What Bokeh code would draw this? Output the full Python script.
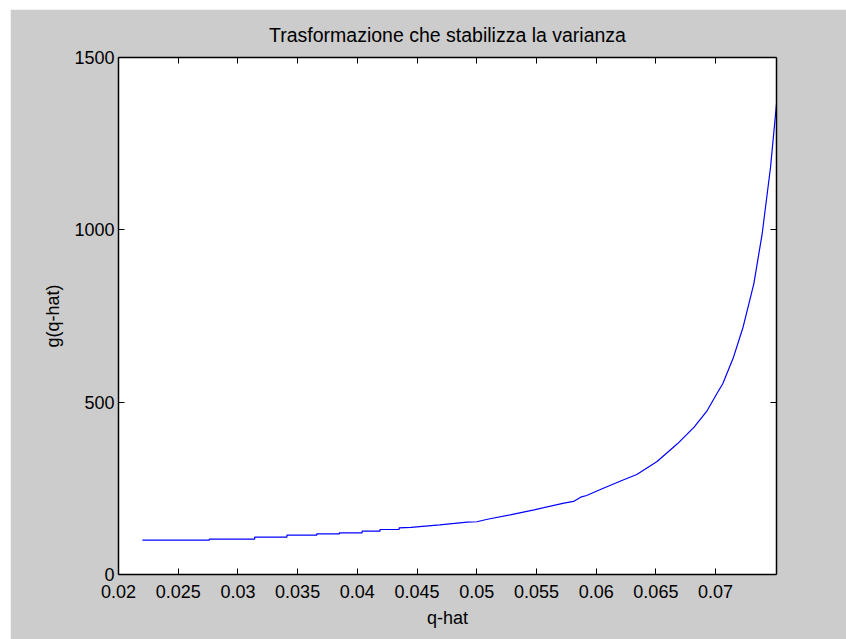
from bokeh.plotting import figure
from bokeh.models import LinearAxis, FixedTicker, CustomJSTickFormatter, Range1d, Spacer
from bokeh.layouts import column, row
from bokeh.embed import file_html
from bokeh.resources import INLINE

# estimated proportion q-hat and the transformed value g(q-hat)
q_hat = [0.0220, 0.0276, 0.0276, 0.0314, 0.0314, 0.0341, 0.0341, 0.0366, 0.0366,
         0.0385, 0.0385, 0.0404, 0.0404, 0.0419, 0.0419, 0.0435, 0.0435, 0.0445,
         0.0469, 0.0492, 0.0500, 0.0509, 0.0528, 0.0548, 0.0573, 0.0581, 0.0587,
         0.0592, 0.0604, 0.0620, 0.0634, 0.0651, 0.0668, 0.0682, 0.0693, 0.0701,
         0.0706, 0.0715, 0.0723, 0.0732, 0.0739, 0.0746, 0.0751]
g_val = [99.5, 99.5, 102.4, 102.4, 108.2, 108.2, 114.0, 114.0, 118.1,
         118.1, 121.0, 121.0, 125.6, 125.6, 130.6, 130.6, 135.5, 137.0,
         144.2, 151.7, 153.0, 160.4, 173.2, 187.7, 206.9, 212.0, 224.3,
         229.2, 247.5, 270.7, 290.1, 327.8, 379.2, 427.4, 475.8, 524.3,
         553.3, 630.5, 717.5, 843.4, 988.5, 1181.7, 1365.0]

x_ticks = [0.02, 0.025, 0.03, 0.035, 0.04, 0.045, 0.05, 0.055, 0.06, 0.065, 0.07]
y_ticks = [0, 500, 1000, 1500]

FONT = "Liberation Sans"
GRAY = "#cccccc"

p = figure(frame_width=658, frame_height=517,
           x_range=Range1d(0.02, 0.0751), y_range=Range1d(0, 1500),
           output_backend="svg", toolbar_location=None,
           x_axis_location=None, y_axis_location=None,
           min_border_left=108, min_border_right=70,
           min_border_top=48, min_border_bottom=65,
           background_fill_color="white", border_fill_color=GRAY,
           outline_line_color=None)

p.title.text = "Trasformazione che stabilizza la varianza"
p.title.align = "center"
p.title.text_font = FONT
p.title.text_font_size = "19.5px"
p.title.text_font_style = "normal"
p.title.text_color = "black"
p.title.standoff = 24

p.xgrid.visible = False
p.ygrid.visible = False

fmt = CustomJSTickFormatter(code="return String(Number(tick.toFixed(4)));")

bottom_ax = LinearAxis(ticker=FixedTicker(ticks=x_ticks), formatter=fmt)
left_ax = LinearAxis(ticker=FixedTicker(ticks=y_ticks), formatter=fmt)
top_ax = LinearAxis(ticker=FixedTicker(ticks=x_ticks), formatter=fmt)
right_ax = LinearAxis(ticker=FixedTicker(ticks=y_ticks), formatter=fmt)
p.add_layout(bottom_ax, "below")
p.add_layout(left_ax, "left")
p.add_layout(top_ax, "above")
p.add_layout(right_ax, "right")

for ax in (bottom_ax, left_ax, top_ax, right_ax):
    ax.axis_line_color = "black"
    ax.axis_line_width = 1.5
    ax.major_tick_in = 6
    ax.major_tick_out = 0
    ax.major_tick_line_color = "black"
    ax.minor_tick_line_color = None
    ax.major_label_text_font = FONT
    ax.major_label_text_font_size = "18px"
    ax.major_label_text_color = "black"
    ax.axis_label_text_font = FONT
    ax.axis_label_text_font_size = "18px"
    ax.axis_label_text_font_style = "normal"
    ax.axis_label_text_color = "black"

# top and right axes only carry the box edge and inward ticks
for ax in (top_ax, right_ax):
    ax.major_label_text_font_size = "1px"
    ax.major_label_text_color = None
    ax.major_label_standoff = 0

bottom_ax.axis_label = "q-hat"
bottom_ax.major_label_standoff = 10
bottom_ax.axis_label_standoff = 7
left_ax.axis_label = "g(q-hat)"
left_ax.major_label_standoff = 4
left_ax.axis_label_standoff = 8

p.line(q_hat, g_val, line_color="#0000ff", line_width=1.2)

layout = column(Spacer(height=9),
                row(Spacer(width=10), p, spacing=0),
                spacing=0)

open("out.html", "w").write(file_html(layout, INLINE))
